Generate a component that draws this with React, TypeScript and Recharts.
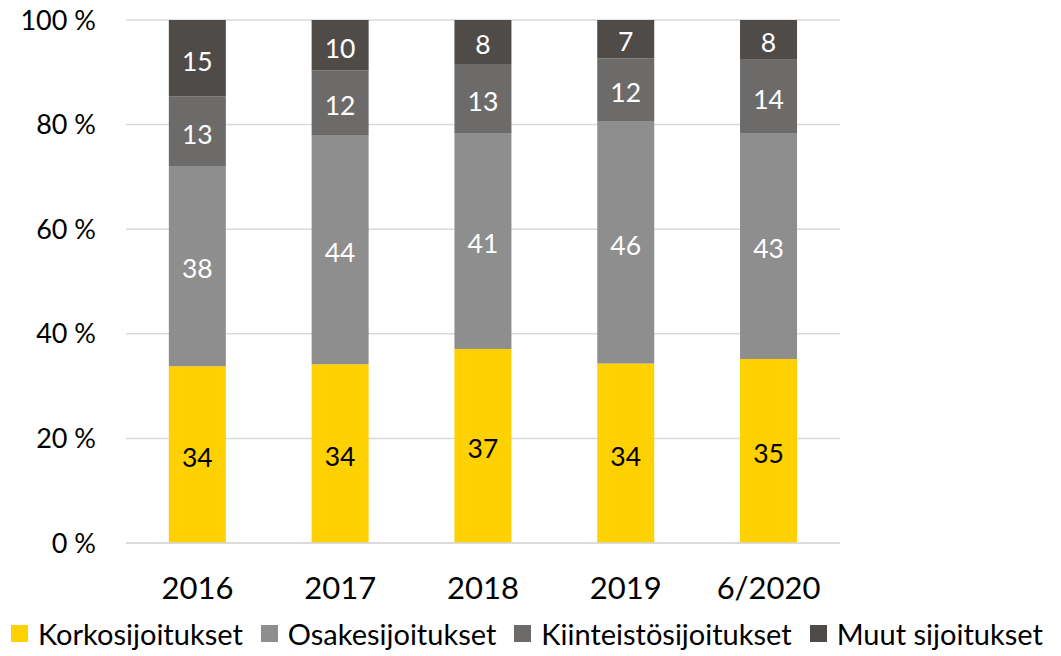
import React from 'react';
import { BarChart, Bar, XAxis, YAxis, CartesianGrid, Legend, LabelList } from 'recharts';

const categories = ['2016', '2017', '2018', '2019', '6/2020'];
const korko = [33.8, 34.2, 37.1, 34.3, 35.2];
const osake = [38.3, 43.8, 41.3, 46.4, 43.2];
const kiinteisto = [13.3, 12.4, 13.2, 12.0, 14.0];
const muut = [14.6, 9.6, 8.4, 7.3, 7.6];
const yTicks = [0, 20, 40, 60, 80, 100];

const seriesNames = ['Korkosijoitukset', 'Osakesijoitukset', 'Kiinteistösijoitukset', 'Muut sijoitukset'];
const colors = ['#FFD100', '#8E8E8E', '#6D6B69', '#4F4B49'];
const labelColors = ['#000000', '#FFFFFF', '#FFFFFF', '#FFFFFF'];
const keys = ['korko', 'osake', 'kiinteisto', 'muut'];

const data = categories.map((c, i) => ({
  name: c,
  korko: korko[i],
  osake: osake[i],
  kiinteisto: kiinteisto[i],
  muut: muut[i],
}));

const FONT = 'Lato, "Open Sans", sans-serif';

const LegendContent = () => (
  <div style={{ display: 'flex', alignItems: 'center', fontFamily: FONT, fontSize: 29, color: '#000', whiteSpace: 'nowrap', paddingLeft: 11 }}>
    {seriesNames.map((n, i) => (
      <div key={n} style={{ display: 'flex', alignItems: 'center', marginRight: 18 }}>
        <div style={{ width: 17, height: 17, background: colors[i], marginRight: 10 }} />
        <span>{n}</span>
      </div>
    ))}
  </div>
);

export default function App() {
  return (
    <div style={{ position: 'absolute', left: 0, top: 0, background: '#fff' }}>
      <BarChart
        width={1061}
        height={656}
        data={data}
        margin={{ top: 20, right: 221, left: 0, bottom: 0 }}
        barCategoryGap="30%"
      >
        <CartesianGrid vertical={false} stroke="#D9D9D9" strokeWidth={1.5} />
        <XAxis
          dataKey="name"
          height={73}
          axisLine={{ stroke: '#D9D9D9', strokeWidth: 1.5 }}
          tickLine={false}
          tick={{ fill: '#000', fontSize: 31, fontFamily: FONT }}
          dy={26}
        />
        <YAxis
          width={126}
          domain={[0, 100]}
          ticks={yTicks}
          interval={0}
          allowDataOverflow
          axisLine={false}
          tickLine={false}
          tickFormatter={(v: number) => `${v} %`}
          tick={{ fill: '#000', fontSize: 27, fontFamily: FONT }}
          dx={-22}
        />
        <Legend verticalAlign="bottom" height={40} content={<LegendContent />} />
        {keys.map((k, i) => (
          <Bar key={k} dataKey={k} name={seriesNames[i]} stackId="a" fill={colors[i]} isAnimationActive={false}>
            <LabelList
              dataKey={k}
              position="center"
              formatter={(v: number) => Math.round(v)}
              dy={3}
              style={{ fill: labelColors[i], fontSize: 26.5, fontFamily: FONT }}
            />
          </Bar>
        ))}
      </BarChart>
    </div>
  );
}
